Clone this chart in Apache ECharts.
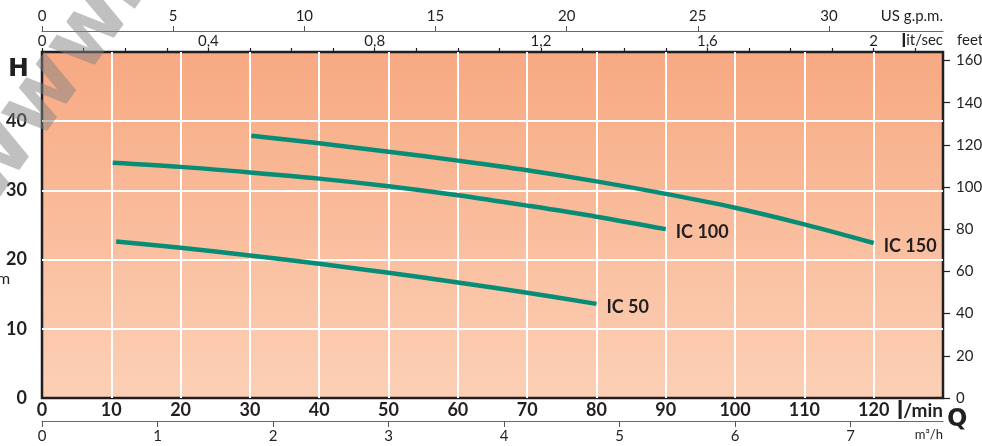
<!DOCTYPE html>
<html>
<head>
<meta charset="utf-8">
<script src="https://cdn.jsdelivr.net/npm/echarts@6/dist/echarts.min.js"></script>
<style>
html,body{margin:0;padding:0;background:#fff;}
#c{width:982px;height:446px;}
</style>
</head>
<body>
<div id="c"></div>
<script>
// Flow (l/min) and head (m)
const flowIC50  = [10.7, 20, 30, 40, 50, 60, 70, 80];
const headIC50  = [22.6, 21.7, 20.6, 19.4, 18.1, 16.7, 15.2, 13.6];
const flowIC100 = [10.2, 20, 30, 40, 50, 60, 70, 80, 90];
const headIC100 = [34.0, 33.4, 32.6, 31.7, 30.6, 29.3, 27.8, 26.2, 24.4];
const flowIC150 = [30.2, 40, 50, 60, 70, 80, 90, 100, 110, 120];
const headIC150 = [37.9, 36.8, 35.6, 34.3, 32.9, 31.3, 29.5, 27.5, 25.1, 22.4];
const seriesNames = ['IC 50', 'IC 100', 'IC 150'];

// Axis tick labels
const flowTicks   = [0,10,20,30,40,50,60,70,80,90,100,110,120];
const headTicks   = [0,10,20,30,40];
const feetTicks   = [0,20,40,60,80,100,120,140,160];
const litSecTicks = [0,0.1,0.2,0.3,0.4,0.5,0.6,0.7,0.8,0.9,1.0,1.1,1.2,1.3,1.4,1.5,1.6,1.7,1.8,1.9,2.0,2.1];
const litSecLabels= [0,0.4,0.8,1.2,1.6,2];
const gpmTicks    = [0,5,10,15,20,25,30];
const m3hTicks    = [0,1,2,3,4,5,6,7];

const Q_MAX = 130, H_MAX = 50;
const ink = '#231f20';
const font = 'Lato';

function pairs(xs, ys){ return xs.map((x,i)=>[x, ys[i]]); }
const seriesData = [pairs(flowIC50, headIC50), pairs(flowIC100, headIC100), pairs(flowIC150, headIC150)];
const comma = v => String(+(+v).toFixed(1)).replace('.', ',');

const chart = echarts.init(document.getElementById('c'), null, {renderer:'canvas'});
chart.setOption({
  animation:false,
  textStyle:{fontFamily:font},
  grid:{left:42, top:52, right:39, bottom:48, containLabel:false, outerBoundsMode:'none',
    show:true, borderColor:ink, borderWidth:2.5,
    backgroundColor:{type:'linear', x:0, y:0, x2:0, y2:1,
      colorStops:[{offset:0,color:'#f7a982'},{offset:1,color:'#fcd0b6'}]}},
  xAxis:[
    {type:'value', position:'bottom', min:0, max:Q_MAX, interval:10,
     axisLine:{show:false, onZero:false}, axisTick:{show:false}, minorTick:{show:false},
     axisLabel:{formatter:v=> flowTicks.indexOf(v) >= 0 ? String(v) : '', color:ink, fontWeight:'bold', fontSize:18, margin:3, fontFamily:font},
     splitLine:{show:true, showMinLine:false, showMaxLine:false, lineStyle:{color:'#ffffff', width:2}}},
    {type:'value', position:'top', offset:0, min:0, max:Q_MAX/60,
     axisLine:{show:false, onZero:false},
     axisTick:{customValues:litSecTicks, length:4, lineStyle:{color:ink,width:1.2}},
     axisLabel:{customValues:litSecLabels, formatter:comma, color:ink, fontSize:15, margin:3, fontFamily:font},
     splitLine:{show:false}},
    {type:'value', position:'top', offset:21, min:0, max:Q_MAX/3.785,
     axisLine:{onZero:false, lineStyle:{color:'#6a6a6a',width:1.2}},
     axisTick:{customValues:gpmTicks, length:5, lineStyle:{color:'#555',width:1}},
     axisLabel:{customValues:gpmTicks, color:ink, fontSize:15, margin:7, fontFamily:font},
     splitLine:{show:false}},
    {type:'value', position:'bottom', offset:23, min:0, max:Q_MAX*0.06,
     axisLine:{onZero:false, lineStyle:{color:'#6a6a6a',width:1.2}},
     axisTick:{customValues:m3hTicks, length:6, lineStyle:{color:'#555',width:1}},
     axisLabel:{customValues:m3hTicks, color:ink, fontSize:15, margin:8, fontFamily:font},
     splitLine:{show:false}}
  ],
  yAxis:[
    {type:'value', position:'left', min:0, max:H_MAX, interval:10,
     axisLine:{show:false, onZero:false}, axisTick:{show:false}, minorTick:{show:false},
     axisLabel:{formatter:v=> headTicks.indexOf(v) >= 0 ? String(v) : '', color:ink, fontWeight:'bold', fontSize:18, margin:15, fontFamily:font},
     splitLine:{show:true, showMinLine:false, showMaxLine:false, lineStyle:{color:'#ffffff', width:2}}},
    {type:'value', position:'right', min:0, max:H_MAX*3.2808,
     axisLine:{show:false, onZero:false},
     axisTick:{show:true, customValues:feetTicks, length:7, lineStyle:{color:ink,width:1.2}},
     axisLabel:{customValues:feetTicks, color:ink, fontSize:15, margin:13, fontFamily:font},
     splitLine:{show:false}}
  ],
  series: seriesNames.map((name,i)=>({
    name, type:'line', xAxisIndex:0, yAxisIndex:0, data:seriesData[i],
    smooth:0.35, showSymbol:false, symbol:'none',
    lineStyle:{color:'#078c76', width:4.5, cap:'butt'},
    endLabel:{show:true, formatter:'{a}', color:ink, fontWeight:'bold', fontSize:18,
      distance:10, offset:[0,3], fontFamily:font},
    z:5
  })),
  graphic:[
    {type:'text', left:8, top:57, style:{text:'H', font:'900 25px "DejaVu Sans"', fill:ink}},
    {type:'text', left:-3, top:271, style:{text:'m', font:'16px '+font, fill:ink}},
    {type:'text', right:39, top:9, style:{text:'US g.p.m.', font:'15px '+font, fill:ink}},
    {type:'text', right:39, top:31, style:{text:'{b|l}it/sec', font:'15px '+font, fill:ink,
      rich:{b:{fontWeight:'bold', fontSize:19, fontFamily:font, fill:ink}}}},
    {type:'text', left:957, top:33, style:{text:'feet', font:'15px '+font, fill:ink}},
    {type:'text', right:39, top:398, style:{text:'{b|l}/min', font:'bold 19px '+font, fill:ink,
      rich:{b:{fontWeight:'bold', fontSize:25, fontFamily:font, fill:ink}}}},
    {type:'text', left:947, top:408, style:{text:'Q', font:'900 24px "DejaVu Sans"', fill:ink}},
    {type:'text', right:39, top:428, style:{text:'m³/h', font:'13px '+font, fill:ink}},
    {type:'text', x:8, y:222, rotation:0.95, z:100,
     style:{text:'www.te', font:'bold 88px "DejaVu Sans"', fill:'rgba(130,130,130,0.5)',
       textAlign:'left', textVerticalAlign:'bottom'}}
  ]
});
</script>
</body>
</html>
